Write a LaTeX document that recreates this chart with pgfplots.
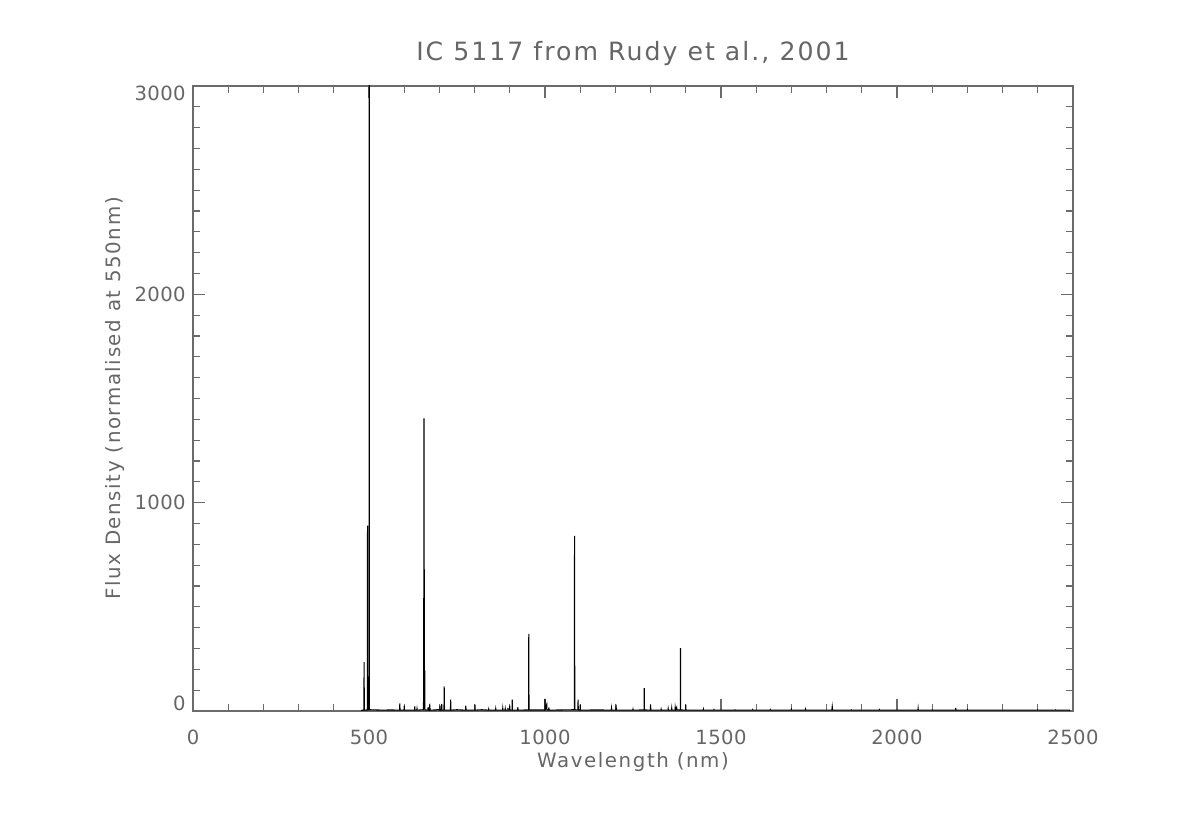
\documentclass[border=0pt]{standalone}
\usepackage{pgfplots}
\pgfplotsset{compat=1.18}
\usepackage{fontspec}
\setmainfont[LetterSpace=8]{DejaVu Sans}
\newfontfamily\tickfont[LetterSpace=2]{DejaVu Sans}
\definecolor{txt}{gray}{0.40}
\definecolor{axc}{gray}{0.42}
\begin{document}
\begin{tikzpicture}
\begin{axis}[
  scale only axis,
  width=440pt, height=312.5pt,
  xmin=0, xmax=2500, ymin=0, ymax=3000,
  axis line style={axc, line width=0.7pt},
  every tick/.style={axc, line width=0.6pt},
  tick align=inside,
  xtick pos=both, ytick pos=both,
  xtick={0,500,1000,1500,2000,2500},
  xticklabels={0,500,1000,1500,2000,2500},
  ytick={0,1000,2000,3000},
  yticklabels={\raisebox{3.75pt}{0},1000,2000,\raisebox{-3.5pt}{3000}},
  minor x tick num=4, minor y tick num=9,
  major tick length=6pt, minor tick length=3.5pt,
  tick label style={font=\tickfont\fontsize{9.8pt}{11pt}\selectfont, color=txt},
  xticklabel style={anchor=base, inner sep=0pt, yshift=-17pt},
  yticklabel style={anchor=base east, inner sep=0pt, xshift=-3.5pt, yshift=-3.6pt},
  xlabel={Wavelength (nm)},
  ylabel={Flux Density (normalised at 550nm)},
  label style={font=\fontsize{9.9pt}{11pt}\selectfont, color=txt},
  xlabel style={at={(axis description cs:0.5,-0.0904)}, anchor=base, inner sep=0pt},
  ylabel style={at={(axis description cs:-0.08295,0.5)}, anchor=base, inner sep=0pt, rotate=0},
  title={IC 5117 from Rudy et al., 2001},
  title style={at={(axis description cs:0.5,1.0208)}, anchor=base, inner sep=0pt, font=\fontsize{12.6pt}{13pt}\selectfont, color=txt},
]
\addplot[black, line width=0.55pt, line join=miter] coordinates {
(479,0) (480,4)
(485.6,4) (486.1,234) (486.6,4)
(495.4,5) (495.9,890) (496.4,5)
(500.2,6) (500.7,3200) (501.2,6)
(540,4) (560,5)
(587.1,4) (587.6,37) (588.1,4)
(599.5,4) (600,26) (600.5,4)
(629.5,4) (630.0,22) (630.5,4)
(635.9,4) (636.4,10) (636.9,4)
(654.3,6) (654.8,42) (655.3,8) (656.3,1404) (657.3,8) (658.4,195) (658.9,5)
(667.3,4) (667.8,17) (668.3,4)
(671.1,4) (671.6,12) (672.1,4) (673.1,15) (673.6,4)
(690,5) (695,7)
(701.2,4) (701.7,26) (702.2,4)
(706.0,4) (706.5,34) (707.0,4)
(713.1,4) (713.6,118) (714.1,4)
(731.5,4) (732.0,55) (732.5,4)
(750,6) (760,5)
(774.6,4) (775.1,26) (775.6,4)
(800.5,4) (801,31) (801.5,4)
(820,6)
(839.5,4) (840,8) (840.5,4)
(859.5,4) (860,10) (860.5,4)
(879.5,4) (880,12) (880.5,4)
(886.5,4) (887,10) (887.5,4)
(894.5,4) (895,15) (895.5,4)
(899.5,4) (900,26) (900.5,4)
(906.4,4) (906.9,55) (907.4,4)
(922.4,4) (922.9,18) (923.4,4)
(953.5,5) (954,370) (954.5,5)
(975,5)
(999.5,5) (1000,58) (1000.5,5) (1005,31) (1005.5,5)
(1010.5,4) (1011,17) (1011.5,4)
(1050,5)
(1083.5,6) (1084,840) (1084.5,6)
(1093.5,5) (1094,55) (1094.5,5)
(1099.5,4) (1100,31) (1100.5,4)
(1150,5)
(1188.5,4) (1189,12) (1189.5,4)
(1201.5,4) (1202,31) (1202.5,4)
(1249.5,4) (1250,8) (1250.5,4)
(1281.5,5) (1282,110) (1282.5,5)
(1299.5,4) (1300,31) (1300.5,4)
(1329.5,4) (1330,8) (1330.5,4)
(1349.5,4) (1350,10) (1350.5,4)
(1359.5,4) (1360,12) (1360.5,4)
(1369.5,4) (1370,17) (1371,6) (1374,17) (1374.5,5)
(1384.5,5) (1385,302) (1385.5,5)
(1399.5,4) (1400,31) (1400.5,4)
(1449.5,4) (1450,8) (1450.5,4)
(1479.5,4) (1480,6) (1480.5,4)
(1539.5,4) (1540,5) (1540.5,4)
(1589.5,4) (1590,6) (1590.5,4)
(1639.5,4) (1640,6) (1640.5,4)
(1699.5,4) (1700,7) (1700.5,4)
(1739.5,4) (1740,8) (1740.5,4)
(1815,4) (1816,20) (1817,4)
(1869.5,4) (1870,5) (1870.5,4)
(1949.5,4) (1950,6) (1950.5,4)
(2059.5,4) (2060,12) (2060.5,4)
(2099.5,4) (2100,5) (2100.5,4)
(2166.5,4) (2167,15) (2167.5,4)
(2199.5,4) (2200,6) (2200.5,4)
(2299.5,4) (2300,4) (2399.5,4) (2400,5) (2400.5,4)
(2449.5,4) (2450,5) (2450.5,4)
(2490,4) (2491,0)
};
\end{axis}
\pgfresetboundingbox
\path[use as bounding box] (-96.5pt,-51.25pt) rectangle (501pt,355.5pt);
\end{tikzpicture}
\end{document}
